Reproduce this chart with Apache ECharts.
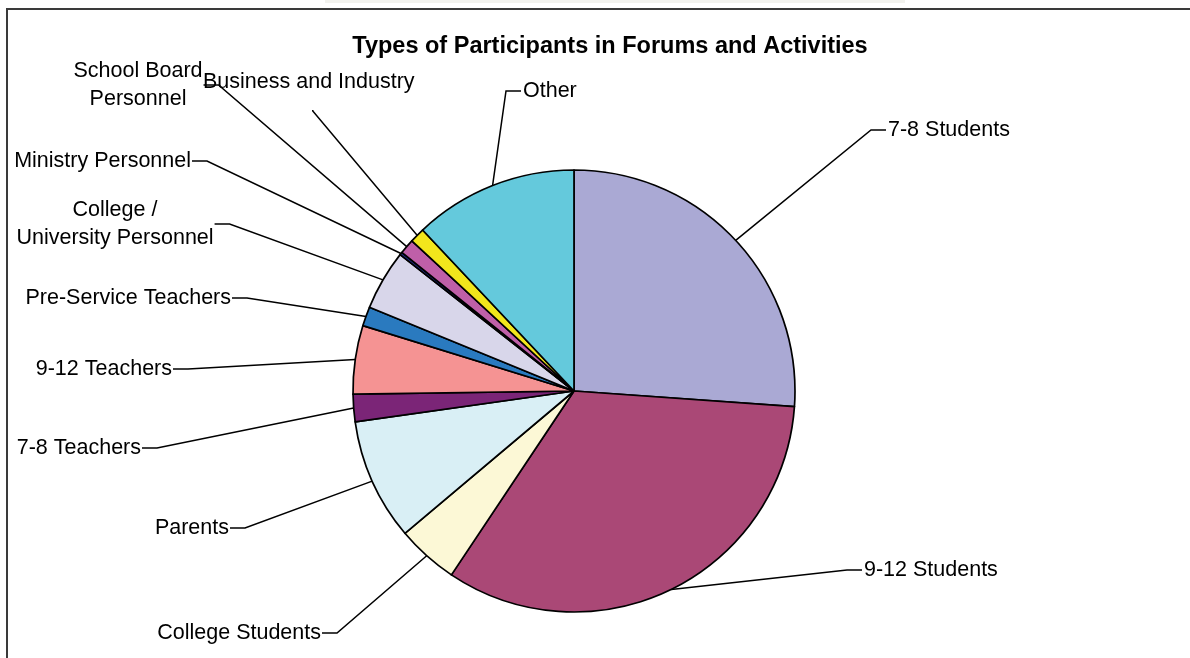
<!DOCTYPE html>
<html>
<head>
<meta charset="utf-8">
<script src="https://cdn.jsdelivr.net/npm/echarts@6/dist/echarts.min.js"></script>
<style>
html,body{margin:0;padding:0;background:#fff;}
#main{width:1190px;height:658px;}
</style>
</head>
<body>
<div id="main"></div>
<script>
// ---- data ----
var categories = [
  "7-8 Students", "9-12 Students", "College Students", "Parents",
  "7-8 Teachers", "9-12 Teachers", "Pre-Service Teachers",
  "College /\nUniversity Personnel", "Ministry Personnel",
  "School Board\nPersonnel", "Business and Industry", "Other"
];
var values = [26.1, 33.2, 4.5, 8.9, 2.0, 5.0, 1.4, 4.4, 0.2, 1.1, 1.1, 12.0];
var colors = ["#aaa9d4", "#aa4876", "#fcf8d6", "#d9eff5", "#7b2577", "#f59393",
              "#2a7abf", "#d8d6ea", "#1c2a80", "#bf5fa8", "#f2e61c", "#64c9dc"];
// label placement (layout only): anchor point of text, alignment, side the leader leaves from
var labelPlace = [
  {x: 888, y: 130, align: "left",   side: "left"},
  {x: 864, y: 570, align: "left",   side: "left"},
  {x: 321, y: 633, align: "right",  side: "right"},
  {x: 229, y: 528, align: "right",  side: "right"},
  {x: 141, y: 448, align: "right",  side: "right"},
  {x: 172, y: 369, align: "right",  side: "right"},
  {x: 231, y: 298, align: "right",  side: "right"},
  {x: 115, y: 224, align: "center", side: "right"},
  {x: 191, y: 161, align: "right",  side: "right"},
  {x: 138, y: 85,  align: "center", side: "right"},
  {x: 203, y: 82,  align: "left",   side: "bottom"},
  {x: 523, y: 91,  align: "left",   side: "left"}
];

var CX = 574, CY = 391, R = 221, STUB = 15;
var total = values.reduce(function (a, b) { return a + b; }, 0);
// mid-angle of each slice (clockwise from 12 o'clock), derived from values
var midAngles = [];
(function () {
  var acc = 0;
  for (var i = 0; i < values.length; i++) {
    var a0 = acc / total * 360;
    acc += values[i];
    var a1 = acc / total * 360;
    midAngles.push((a0 + a1) / 2);
  }
})();

var chart = echarts.init(document.getElementById("main"));
var data = categories.map(function (c, i) {
  return { name: c, value: values[i], itemStyle: { color: colors[i] } };
});
chart.setOption({
  backgroundColor: "#ffffff",
  animation: false,
  title: {
    text: "Types of Participants in Forums and Activities",
    left: 605, top: 30, textAlign: "center",
    textStyle: { fontFamily: "Liberation Sans, Arial, sans-serif", fontSize: 23.5, fontWeight: "bold", color: "#000" }
  },
  graphic: [
    { type: "rect", left: 325, top: 0, shape: { width: 580, height: 3 }, style: { fill: "#f2f2ee" }, silent: true },
    { type: "rect", shape: { x: 7, y: 9, width: 1200, height: 700 }, style: { fill: "none", stroke: "#3a3a3a", lineWidth: 2 }, silent: true }
  ],
  series: [{
    type: "pie",
    center: [CX, CY],
    radius: R,
    startAngle: 90,
    clockwise: true,
    avoidLabelOverlap: false,
    silent: true,
    data: data,
    itemStyle: { borderColor: "#000", borderWidth: 1.7 },
    label: {
      show: true,
      position: "outside",
      fontFamily: "Liberation Sans, Arial, sans-serif",
      fontSize: 21.5,
      lineHeight: 28,
      color: "#000",
      overflow: "none",
      formatter: "{b}"
    },
    labelLine: {
      show: true, length: 20, length2: STUB, smooth: false,
      lineStyle: { color: "#000", width: 1.5 }
    },
    labelLayout: function (p) {
      var i = p.dataIndex;
      var lp = labelPlace[i];
      var w = p.labelRect.width, h = p.labelRect.height;
      var left = lp.align === "left" ? lp.x : (lp.align === "right" ? lp.x - w : lp.x - w / 2);
      var pt0, pt1;
      if (lp.side === "left") { pt0 = [left - 2, lp.y]; pt1 = [left - 2 - STUB, lp.y]; }
      else if (lp.side === "right") { pt0 = [left + w + 1, lp.y]; pt1 = [left + w + 1 + STUB, lp.y]; }
      else { pt0 = [left + w / 2 + 4, lp.y + h / 2 + 14]; pt1 = [left + w / 2 + 4, lp.y + h / 2 + 15]; }
      var a = midAngles[i] * Math.PI / 180;
      var pe = [CX + R * Math.sin(a), CY - R * Math.cos(a)];
      return {
        x: lp.x, y: lp.y, align: lp.align, verticalAlign: "middle",
        labelLinePoints: [pe, pt1, pt0]
      };
    }
  }]
});
</script>
</body>
</html>
